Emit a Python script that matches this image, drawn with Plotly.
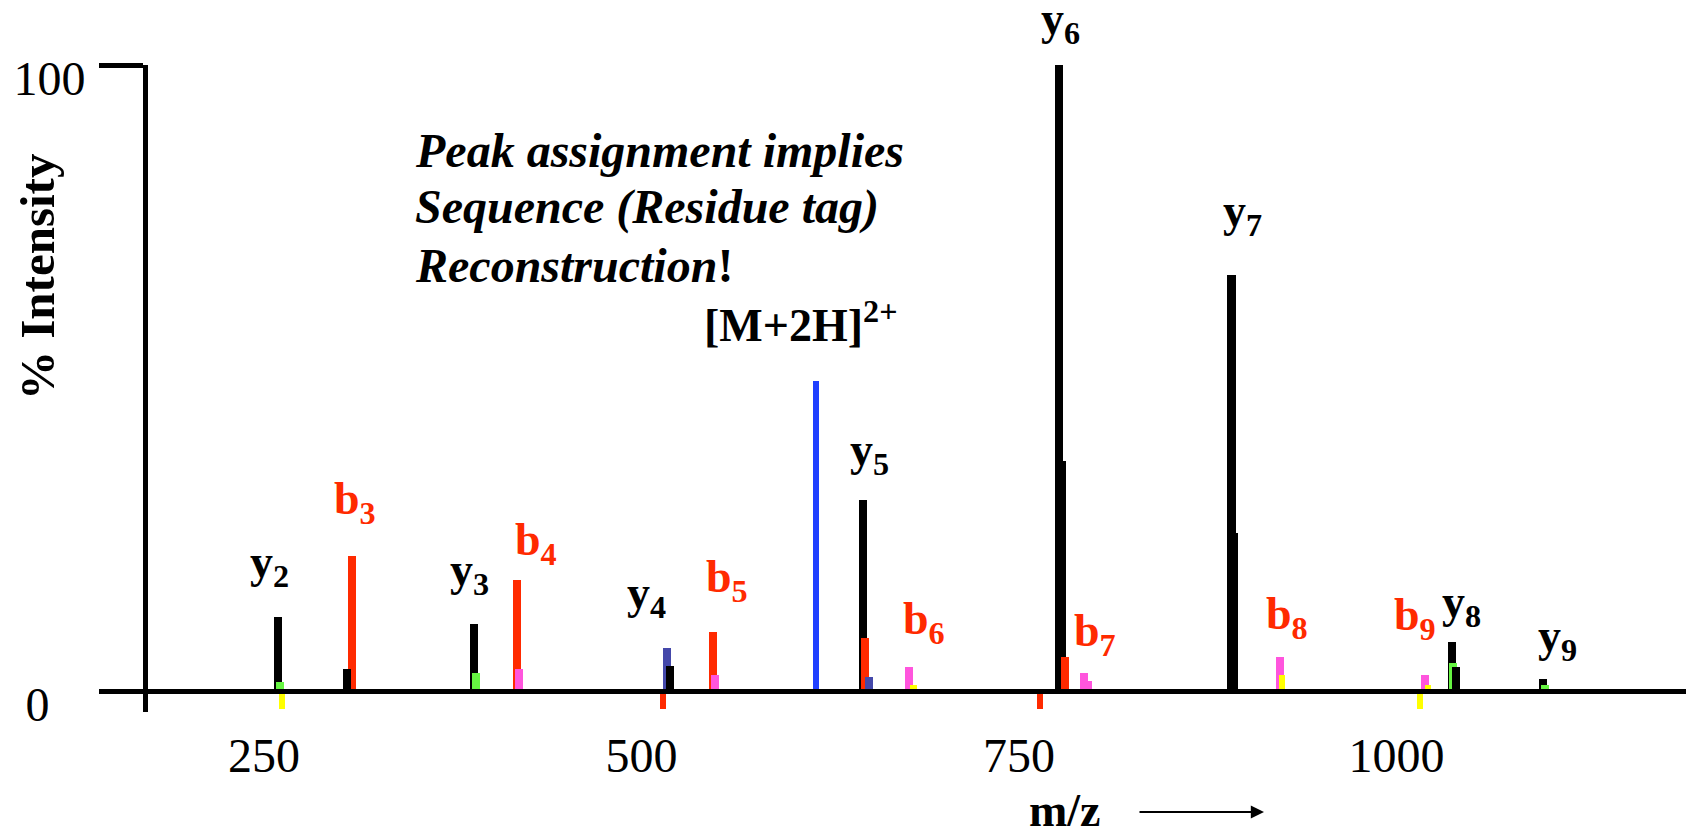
import plotly.graph_objects as go

# ---------------- data (m/z, % intensity) ----------------
y_ion_mz = [259.3, 389.0, 646.7, 776.5, 890.7, 1036.8, 1097.0]
y_ion_int = [11.8, 10.7, 30.5, 100.0, 66.4, 7.8, 1.9]
shoulder_mz = [778.5, 892.4]
shoulder_int = [36.7, 25.2]
b_ion_mz = [308.0, 417.5, 547.4, 648.3, 780.5]
b_ion_int = [21.5, 17.7, 9.4, 8.5, 5.4]
precursor_mz = [615.6]
precursor_int = [49.6]
indigo_mz = [516.9, 650.7]
indigo_int = [6.9, 2.2]
pink_mz = [418.9, 548.7, 677.2, 793.0, 795.7, 922.8, 1019.2]
pink_int = [3.5, 2.6, 3.8, 2.9, 1.6, 5.4, 2.6]
green_mz = [260.6, 390.4, 1037.4, 1098.3]
green_int = [1.4, 2.9, 4.5, 1.0]
minor_black_mz = [305.0, 519.2, 1039.4]
minor_black_int = [3.5, 4.0, 3.8]
yellow_mz = [680.1, 924.2, 1020.9, 261.9, 1015.6]
yellow_int = [1.0, 2.6, 1.0, -2.9, -2.9]
red_below_mz = [514.2, 763.9]
red_below_int = [-2.9, -2.9]

x_tick_vals = [250, 500, 750, 1000]
y_tick_vals = [0, 100]
y_tick_text = ["0\u00a0\u00a0\u00a0", "100"]

peak_label_text = ["y<sub>2</sub>", "b<sub>3</sub>", "y<sub>3</sub>", "b<sub>4</sub>",
                   "y<sub>4</sub>", "b<sub>5</sub>", "[M+2H]<sup>2+</sup>", "y<sub>5</sub>",
                   "b<sub>6</sub>", "y<sub>6</sub>", "b<sub>7</sub>", "y<sub>7</sub>",
                   "b<sub>8</sub>", "b<sub>9</sub>", "y<sub>8</sub>", "y<sub>9</sub>"]
peak_label_kind = ["y", "b", "y", "b", "y", "b", "M", "y", "b", "y", "b", "y", "b", "b", "y", "y"]

# ---------------- layout geometry ----------------
W, H = 1686, 827
ML, MR, MT, MB = 148, 0, 65, 115
PW, PH = W - ML - MR, H - MT - MB


def mz_at(px):
    # pixel -> m/z scale of the reference (250 at 264 px, 1.51 px per unit)
    return 250 + (px - 264) / 1.51


X_RANGE = [mz_at(ML), mz_at(W)]
Y_RANGE = [-3.35, 100]


def px_x(px):
    return (px - ML) / PW


def px_y(py):
    return (H - MB - py) / PH


# label centres in pixel space (layout positions)
peak_label_pos = [(269, 565), (355, 502), (469, 573), (536, 543), (646, 596), (727, 580),
                  (800, 322), (869, 453), (924, 622), (1060, 22), (1095, 634), (1242, 214),
                  (1287, 617), (1415, 618), (1461, 605), (1557, 639)]

BLACK = "#000000"
RED = "#ff2a00"
BLUE = "#1f3fff"
INDIGO = "#4448aa"
PINK = "#ff55dd"
GREEN = "#66f542"
YELLOW = "#ffff00"
FONT = "Liberation Serif"

fig = go.Figure()


def add_bars(mz, inten, color, width):
    fig.add_trace(go.Bar(x=mz, y=inten, width=[width] * len(mz),
                         marker=dict(color=color, line=dict(width=0)),
                         showlegend=False, hoverinfo="skip"))


add_bars(y_ion_mz, y_ion_int, BLACK, 5.4)
add_bars(shoulder_mz, shoulder_int, BLACK, 5.4)
add_bars(b_ion_mz, b_ion_int, RED, 5.3)
add_bars(precursor_mz, precursor_int, BLUE, 4.0)
add_bars(indigo_mz, indigo_int, INDIGO, 5.3)
add_bars(pink_mz, pink_int, PINK, 5.3)
add_bars(green_mz, green_int, GREEN, 5.0)
add_bars(minor_black_mz, minor_black_int, BLACK, 5.3)
add_bars(yellow_mz, yellow_int, YELLOW, 4.2)
add_bars(red_below_mz, red_below_int, RED, 4.0)

annotations = []
for txt, kind, (lx, ly) in zip(peak_label_text, peak_label_kind, peak_label_pos):
    col = RED if kind == "b" else BLACK
    annotations.append(dict(text="<b>" + txt + "</b>", xref="paper", yref="paper",
                            x=px_x(lx), y=px_y(ly), xanchor="center", yanchor="middle",
                            showarrow=False, borderpad=0,
                            font=dict(family=FONT, size=46, color=col)))

note_lines = ["<b><i>Peak assignment implies</i></b>",
              "<b><i>Sequence (Residue tag)</i></b>",
              "<b><i>Reconstruction</i>!</b>"]
note_y = [151, 207, 265]
for t, ny in zip(note_lines, note_y):
    annotations.append(dict(text=t, xref="paper", yref="paper", x=px_x(413), y=px_y(ny),
                            xanchor="left", yanchor="middle", showarrow=False,
                            font=dict(family=FONT, size=48, color=BLACK)))

annotations.append(dict(text="<b>% Intensity</b>", xref="paper", yref="paper",
                        x=px_x(37), y=px_y(277), xanchor="center", yanchor="middle",
                        textangle=-90, showarrow=False,
                        font=dict(family=FONT, size=49, color=BLACK)))
annotations.append(dict(text="<b>m/z</b>", xref="paper", yref="paper",
                        x=px_x(1065), y=px_y(810), xanchor="center", yanchor="middle",
                        showarrow=False, borderpad=0,
                        font=dict(family=FONT, size=46, color=BLACK)))
annotations.append(dict(text="", xref="paper", yref="paper", x=px_x(1264), y=px_y(812),
                        ax=-126, ay=0, showarrow=True, arrowhead=2, arrowsize=1.2,
                        arrowwidth=2.2, arrowcolor=BLACK))

fig.update_layout(
    width=W, height=H,
    margin=dict(l=ML, r=MR, t=MT, b=MB, pad=0),
    paper_bgcolor="white", plot_bgcolor="white",
    barmode="overlay", bargap=0,
    annotations=annotations,
    xaxis=dict(range=X_RANGE, anchor="free",
               position=(0 - Y_RANGE[0]) / (Y_RANGE[1] - Y_RANGE[0]),
               showline=True, linewidth=5, linecolor=BLACK, layer="above traces",
               showgrid=False, zeroline=False, ticks="",
               tickmode="array", tickvals=x_tick_vals,
               tickfont=dict(family=FONT, size=48, color=BLACK),
               ticklabelstandoff=20),
    yaxis=dict(range=Y_RANGE, showline=True, linewidth=5, linecolor=BLACK,
               showgrid=False, zeroline=False, ticks="outside", ticklen=44,
               tickwidth=5, tickcolor=BLACK, tickmode="array",
               tickvals=y_tick_vals, ticktext=y_tick_text,
               tickfont=dict(family=FONT, size=48, color=BLACK),
               ticklabelshift=13, ticklabelstandoff=4),
)

fig.write_html("out.html", config={"displayModeBar": False},
               post_script="document.body.style.margin='0px';")
